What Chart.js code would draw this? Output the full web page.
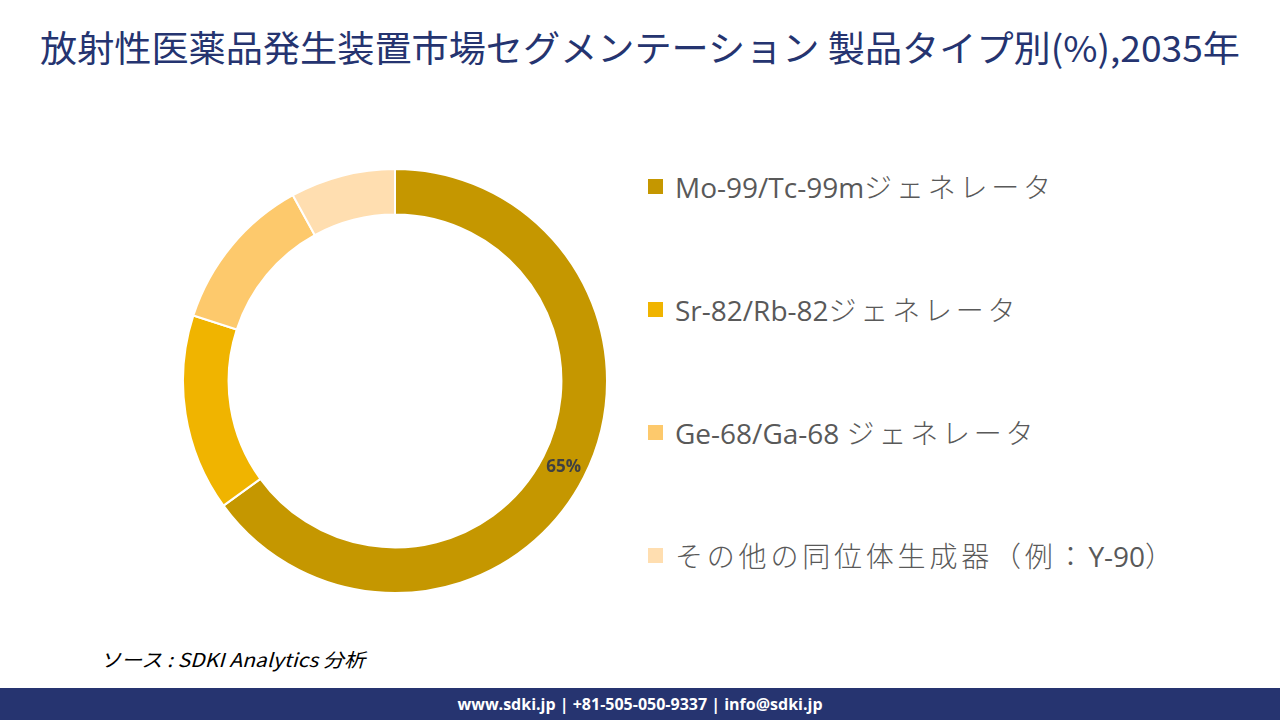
<!DOCTYPE html>
<html>
<head>
<meta charset="utf-8">
<script src="https://cdn.jsdelivr.net/npm/chart.js@4.4.1/dist/chart.umd.min.js"></script>
<style>
  html, body { margin: 0; padding: 0; background: #fff; }
  body { width: 1280px; height: 720px; position: relative; overflow: hidden;
         font-family: "Noto Sans CJK JP", "Open Sans", sans-serif; }
  #title { position: absolute; left: 40px; top: 28px; white-space: nowrap;
           font-size: 36px; color: #253470; transform-origin: left top; line-height: 1; }
  #chartBox { position: absolute; left: 180px; top: 166px; width: 430px; height: 430px; }
  #legend { position: absolute; left: 648px; top: 0; }
  .item { position: absolute; white-space: nowrap; display: flex; align-items: center;
          font-family: "Open Sans", "Noto Sans CJK JP", sans-serif; font-size: 28px; color: #595959; }
  .sw { width: 15px; height: 15px; margin-right: 12px; flex: none; }
  .cjk { letter-spacing: 3.8px; font-family: "Noto Sans CJK JP", sans-serif; font-weight: 300; }
  #source { position: absolute; left: 100px; top: 645px; font-size: 19px; font-style: italic;
            color: #000; white-space: nowrap; transform-origin: left top; }
  #footer { position: absolute; left: 0; top: 688px; width: 1280px; height: 32px; background: #263470;
            color: #fff; font-family: "Open Sans", sans-serif; font-weight: bold; font-size: 16px;
            text-align: center; line-height: 32px; }
</style>
</head>
<body>
<div id="title">放射性医薬品発生装置市場セグメンテーション 製品タイプ別(%),2035年</div>
<div id="chartBox"><canvas id="myChart"></canvas></div>
<div id="legend"></div>
<div id="source">ソース : SDKI Analytics 分析</div>
<div id="footer">www.sdki.jp | +81-505-050-9337 | info@sdki.jp</div>
<script>
const labels = [
  'Mo-99/Tc-99mジェネレータ',
  'Sr-82/Rb-82ジェネレータ',
  'Ge-68/Ga-68 ジェネレータ',
  'その他の同位体生成器（例：Y-90）',
];
const shares = [65, 15, 12, 8];
const colors = ['#C59700', '#F0B400', '#FDC96C', '#FFDEB0'];
const shownLabels = ['65%', '', '', ''];

// fit the title and source note to the reference widths
const fitWidth = (el, w) => {
  const cur = el.getBoundingClientRect().width;
  el.style.transform = `scaleX(${w / cur})`;
};
fitWidth(document.getElementById('title'), 1200);
fitWidth(document.getElementById('source'), 265);

// legend rows; a bit of spacing on the Japanese glyphs like the original
const legend = document.getElementById('legend');
const rowY = [186, 309, 432, 555];
labels.forEach((label, i) => {
  const row = document.createElement('div');
  row.className = 'item';
  row.style.top = `${rowY[i] - 20}px`;
  row.style.height = '40px';
  const text = label.replace(/([\u3000-\u9fff\uff00-\uffef]+)/g, '<span class="cjk">$1</span>');
  row.innerHTML = `<span class="sw" style="background:${colors[i]}"></span><span>${text}</span>`;
  legend.appendChild(row);
});

const sliceLabels = {
  id: 'sliceLabels',
  afterDatasetsDraw(chart) {
    const { ctx } = chart;
    const meta = chart.getDatasetMeta(0);
    ctx.save();
    ctx.font = 'bold 17px "Open Sans", sans-serif';
    ctx.fillStyle = '#404040';
    ctx.textAlign = 'center';
    ctx.textBaseline = 'middle';
    meta.data.forEach((arc, i) => {
      if (!shownLabels[i]) return;
      const p = arc.tooltipPosition();
      ctx.fillText(shownLabels[i], p.x, p.y);
    });
    ctx.restore();
  },
};

const charts = document.getElementById('myChart');
new Chart(charts, {
  type: 'doughnut',
  data: {
    labels,
    datasets: [
      {
        data: shares,
        backgroundColor: colors,
        borderColor: '#ffffff',
        borderWidth: 2,
      },
    ],
  },
  options: {
    responsive: true,
    maintainAspectRatio: false,
    animation: false,
    cutout: '78.5%',
    layout: { padding: 2 },
    plugins: {
      legend: { display: false },
      tooltip: { enabled: false },
    },
  },
  plugins: [sliceLabels],
});
</script>
</body>
</html>
